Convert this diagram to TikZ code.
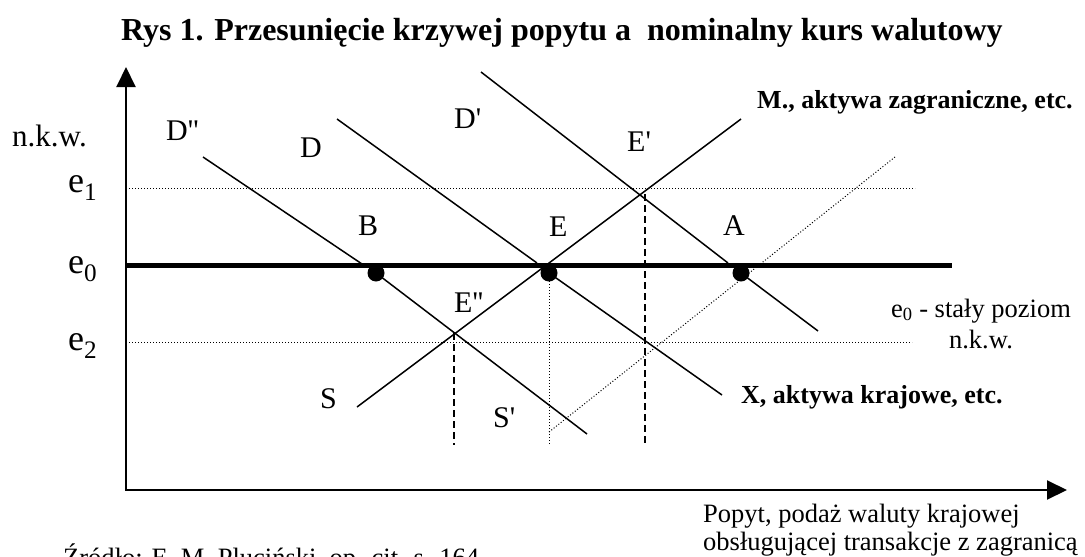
\documentclass[tikz,border=0pt]{standalone}
\usepackage{fontspec}
\setmainfont{Liberation Serif}
\newfontfamily\rawserif{Liberation Serif}
\usetikzlibrary{arrows.meta}
\begin{document}
\begin{tikzpicture}[x=1pt,y=-1pt,
  curve/.style={line width=1.5pt},
  axisline/.style={line width=2pt},
  dotline/.style={line width=1pt,dash pattern=on 1pt off 2pt},
  dashline/.style={line width=1.8pt,dash pattern=on 7pt off 4pt},
  lbl/.style={inner sep=0pt,anchor=base west,font=\fontsize{30}{34}\selectfont},
  elbl/.style={inner sep=0pt,anchor=base west,font=\fontsize{36}{40}\selectfont},
  blbl/.style={inner sep=0pt,anchor=base west,font=\fontsize{26}{31}\selectfont\bfseries},
  txt/.style={inner sep=0pt,anchor=base west,font=\fontsize{26.5}{31}\selectfont},
  ctxt/.style={inner sep=0pt,anchor=base,font=\fontsize{26.5}{31}\selectfont},
  dotpt/.style={circle,fill=black,inner sep=0pt,minimum size=17pt}
]
\useasboundingbox (0,0) rectangle (1085,557);

% title
\node[inner sep=0pt,anchor=base west,font=\fontsize{32}{36}\selectfont\bfseries] (title) at (121,40)
  {Rys 1. Przesunięcie krzywej popytu a\ \ nominalny kurs walutowy};

% axes
\coordinate (O) at (126,490);
\coordinate (Ytop) at (126,67);
\coordinate (Xend) at (1067,490);
\draw[axisline,{Triangle[length=20pt,width=19pt]}-{Triangle[length=20pt,width=19pt]}] (Ytop) -- (O) -- (Xend);

% exchange-rate levels
\coordinate (e1a) at (126,188); \coordinate (e1b) at (915,188);
\coordinate (e0a) at (126,265); \coordinate (e0b) at (952,265);
\coordinate (e2a) at (126,342); \coordinate (e2b) at (912,342);
\draw[dotline] (e1a) -- (e1b);
\draw[dotline] (e2a) -- (e2b);
\draw[line width=5pt] (e0a) -- (e0b);

% curves
\coordinate (Dpp1) at (203,157); \coordinate (Dpp2) at (362,264);
\coordinate (Dpp3) at (376,273); \coordinate (Dpp4) at (587,434);
\coordinate (D1) at (337,119);   \coordinate (D2) at (537,263);
\coordinate (D3) at (549,273);   \coordinate (D4) at (722,395);
\coordinate (Dp1) at (481,72);   \coordinate (Dp2) at (728,263);
\coordinate (Dp3) at (741,273);  \coordinate (Dp4) at (818,331);
\coordinate (S1) at (357,407);   \coordinate (S2) at (741,119);
\coordinate (Sp1) at (549,432);  \coordinate (Sp2) at (895,157);
\draw[curve] (Dpp1) -- (Dpp2);
\draw[curve] (Dpp3) -- (Dpp4);
\draw[curve] (D1) -- (D2);
\draw[curve] (D3) -- (D4);
\draw[curve] (Dp1) -- (Dp2);
\draw[curve] (Dp3) -- (Dp4);
\draw[curve] (S1) -- (S2);
\draw[dotline] (Sp1) -- (Sp2);

% verticals
\coordinate (Epp) at (454,333); \coordinate (Eppb) at (454,445);
\coordinate (Ep) at (645,194);  \coordinate (Epb) at (645,445);
\coordinate (Ev) at (549,281);  \coordinate (Evb) at (549,445);
\draw[dashline] (Epp) -- (Eppb);
\draw[dashline] (Ep) -- (Epb);
\draw[dotline] (Ev) -- (Evb);

% points
\node[dotpt] (B) at (376,273) {};
\node[dotpt] (E) at (549,273) {};
\node[dotpt] (A) at (741,273) {};

% left labels
\node[lbl,font=\fontsize{31}{34}\selectfont] (nkw) at (12,146) {n.k.w.};
\node[elbl] (le1) at (68,192) {e\textsubscript{1}};
\node[elbl] (le0) at (68,273) {e\textsubscript{0}};
\node[elbl] (le2) at (68,350) {e\textsubscript{2}};

% letter labels
\node[lbl] (lDpp) at (166,140) {{\rawserif D''}};
\node[lbl] (lD) at (300,157) {D};
\node[lbl] (lDp) at (454,128) {{\rawserif D'}};
\node[lbl] (lEp) at (627,151) {{\rawserif E'}};
\node[lbl] (lB) at (358,235) {B};
\node[lbl] (lE) at (549,236) {E};
\node[lbl] (lA) at (723,235) {A};
\node[lbl] (lEpp) at (454,312) {{\rawserif E''}};
\node[lbl] (lS) at (320,408) {S};
\node[lbl] (lSp) at (493,427) {{\rawserif S'}};

% right texts
\node[blbl] (lM) at (757,108) {M., aktywa zagraniczne, etc.};
\node[blbl] (lX) at (741,403) {X, aktywa krajowe, etc.};
\node[ctxt] (lfix1) at (981,317) {e\textsubscript{0} - stały poziom};
\node[ctxt] (lfix2) at (981,348) {n.k.w.};
\node[txt] (lpop1) at (703,522) {Popyt, podaż waluty krajowej};
\node[txt] (lpop2) at (703,550) {obsługującej transakcje z zagranicą};

% source (cut by the page edge, as in the original)
\begin{scope}
\clip (0,0) rectangle (1085,557);
\node[txt] (src) at (63,566) {Źródło: E. M. Pluciński, op. cit. s. 164};
\end{scope}
\end{tikzpicture}
\end{document}
